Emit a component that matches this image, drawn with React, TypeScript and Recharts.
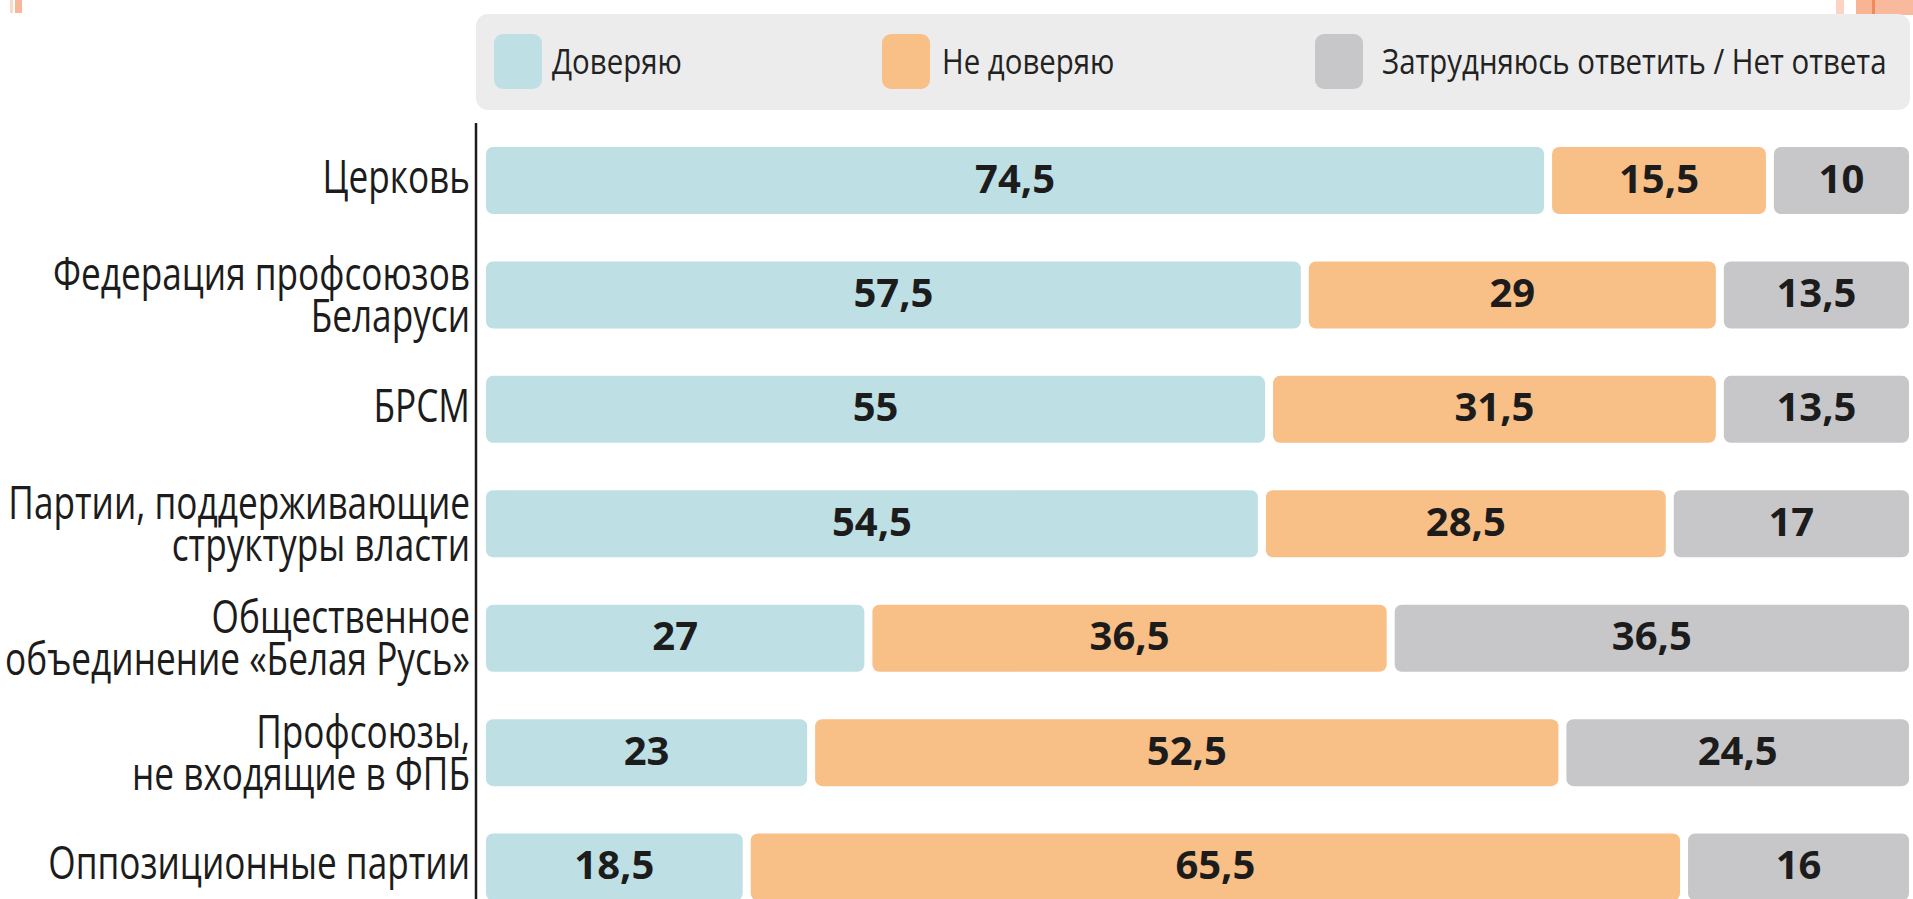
import React from "react";
import { BarChart, Bar, XAxis, YAxis, Legend, LabelList } from "recharts";

const categories = [
  "Церковь",
  "Федерация профсоюзов Беларуси",
  "БРСМ",
  "Партии, поддерживающие структуры власти",
  "Общественное объединение «Белая Русь»",
  "Профсоюзы, не входящие в ФПБ",
  "Оппозиционные партии",
];
const tickLines = [
  ["Церковь"],
  ["Федерация профсоюзов", "Беларуси"],
  ["БРСМ"],
  ["Партии, поддерживающие", "структуры власти"],
  ["Общественное", "объединение «Белая Русь»"],
  ["Профсоюзы,", "не входящие в ФПБ"],
  ["Оппозиционные партии"],
];
const trust = [74.5, 57.5, 55, 54.5, 27, 23, 18.5];
const distrust = [15.5, 29, 31.5, 28.5, 36.5, 52.5, 65.5];
const unsure = [10, 13.5, 13.5, 17, 36.5, 24.5, 16];
const seriesNames = ["Доверяю", "Не доверяю", "Затрудняюсь ответить / Нет ответа"];
const seriesColors = ["#bee0e4", "#f8bf87", "#c7c7c9"];

const data = categories.map((name, i) => ({
  name,
  trust: trust[i],
  distrust: distrust[i],
  unsure: unsure[i],
}));

const FONT = "'Open Sans', 'Noto Sans', sans-serif";
const TEXT = "#1c1c1c";

const SegShape = (props: any) => {
  const { x, y, width, height, fill } = props;
  const g = 4;
  const w = Math.max(0, width - 2 * g);
  return <rect x={x + g} y={y} width={w} height={height} rx={7} ry={7} fill={fill} />;
};

const fmt = (v: any) => String(v).replace(".", ",");

const ValueLabel = (props: any) => {
  const { x, y, width, height, value } = props;
  const cx = x + width / 2;
  const cy = y + height / 2;
  return (
    <text
      transform={`translate(${cx},${cy + 12})`}
      textAnchor="middle"
      fontFamily={FONT}
      fontWeight={700}
      fontSize={40}
      fill={TEXT}
    >
      {fmt(value)}
    </text>
  );
};

const CatTick = (props: any) => {
  const { x, y, index } = props;
  const lines = tickLines[index] || [props.payload?.value];
  const offsets = lines.length === 1 ? [12.5] : [-4.5, 37.5];
  return (
    <g>
      {lines.map((ln: string, k: number) => (
        <text
          key={k}
          transform={`translate(${x},${y + offsets[k]}) scale(0.765,1)`}
          textAnchor="end"
          fontFamily={FONT}
          fontSize={46}
          fill={TEXT}
        >
          {ln}
        </text>
      ))}
    </g>
  );
};

const swatchX = [18, 406, 839];
const labelX = [76, 466, 906];

const LegendContent = (props: any) => {
  const payload = props.payload || [];
  const items = seriesNames.map((nm, i) => {
    const p = payload.find((q: any) => q.value === nm);
    return { value: nm, color: (p && p.color) || seriesColors[i] };
  });
  return (
    <svg width={1437} height={96} style={{ display: "block" }}>
      <rect x={0} y={0} width={1434} height={96} rx={12} ry={12} fill="#ececec" />
      {items.map((p: any, i: number) => (
        <g key={i}>
          <rect x={swatchX[i]} y={20} width={48} height={55} rx={9} ry={9} fill={p.color} />
          <text
            transform={`translate(${labelX[i]},${60}) scale(0.84,1)`}
            fontFamily={FONT}
            fontSize={35}
            fill="#222"
          >
            {p.value}
          </text>
        </g>
      ))}
    </svg>
  );
};

export default function App() {
  return (
    <div
      style={{
        position: "absolute",
        left: 0,
        top: 0,
        width: 1913,
        height: 899,
        overflow: "hidden",
        background: "#ffffff",
      }}
    >
      <div style={{ position: "absolute", left: 10, top: 0, width: 3, height: 13, background: "#fcd8c8" }} />
      <div style={{ position: "absolute", left: 15, top: 0, width: 7, height: 13, background: "#f9b69b" }} />
      <div style={{ position: "absolute", left: 1836, top: 0, width: 8, height: 15, background: "#fdd3c1" }} />
      <div style={{ position: "absolute", left: 1856, top: 0, width: 16, height: 15, background: "#f9b494" }} />
      <div style={{ position: "absolute", left: 1872, top: 0, width: 3, height: 15, background: "#ee8a5c" }} />
      <div style={{ position: "absolute", left: 1875, top: 0, width: 38, height: 15, background: "#f9b99c" }} />
      <BarChart
        width={1913}
        height={924}
        data={data}
        layout="vertical"
        margin={{ top: 123, right: 0, bottom: 0, left: 0 }}
        barCategoryGap={0}
      >
        <XAxis type="number" hide domain={[-0.42, 100]} allowDataOverflow />
        <YAxis
          type="category"
          dataKey="name"
          width={476}
          axisLine={{ stroke: "#1c1c1c", strokeWidth: 2.5 }}
          tickLine={false}
          tickSize={0}
          tickMargin={6}
          interval={0}
          tick={<CatTick />}
        />
        <Legend
          verticalAlign="middle"
          align="center"
          content={<LegendContent />}
          wrapperStyle={{ position: "absolute", top: 14, left: 476, width: 1437, height: 96 }}
        />
        <Bar dataKey="trust" name={seriesNames[0]} stackId="a" fill={seriesColors[0]} barSize={67} shape={<SegShape />} isAnimationActive={false}>
          <LabelList dataKey="trust" content={<ValueLabel />} />
        </Bar>
        <Bar dataKey="distrust" name={seriesNames[1]} stackId="a" fill={seriesColors[1]} barSize={67} shape={<SegShape />} isAnimationActive={false}>
          <LabelList dataKey="distrust" content={<ValueLabel />} />
        </Bar>
        <Bar dataKey="unsure" name={seriesNames[2]} stackId="a" fill={seriesColors[2]} barSize={67} shape={<SegShape />} isAnimationActive={false}>
          <LabelList dataKey="unsure" content={<ValueLabel />} />
        </Bar>
      </BarChart>
    </div>
  );
}
